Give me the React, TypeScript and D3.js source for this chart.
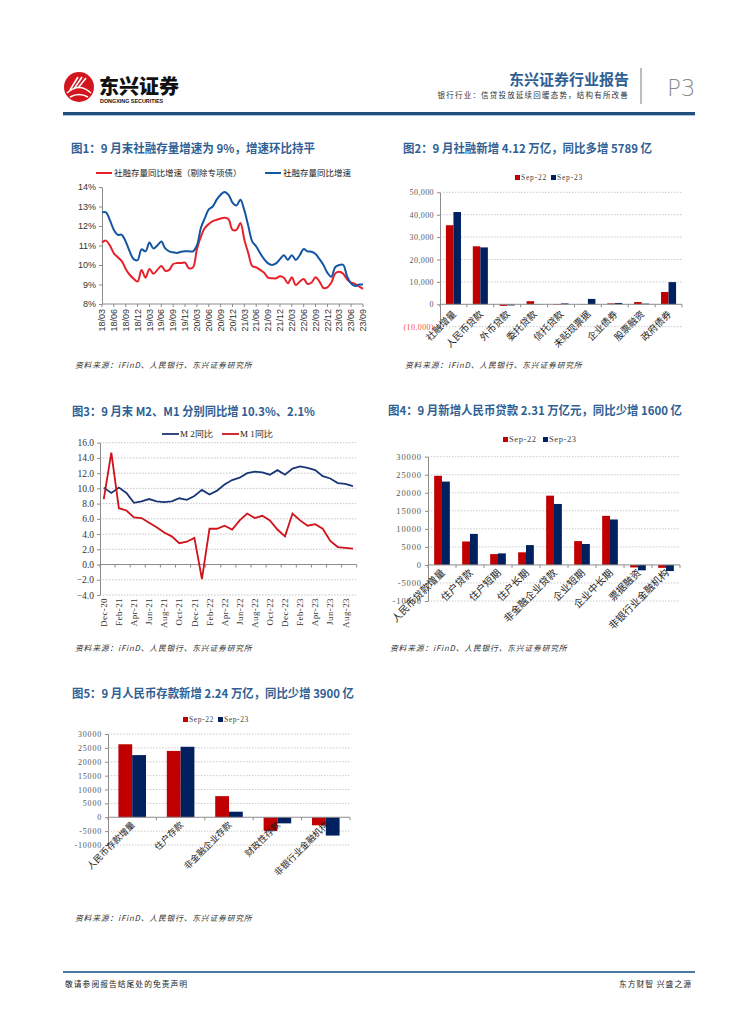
import React, { useEffect, useRef } from 'react';
import * as d3 from 'd3';

const CJK = '"Noto Sans CJK SC", "Noto Sans", sans-serif';
const SERIF = '"Liberation Serif", "DejaVu Serif", serif';
const SANS = '"Liberation Sans", Arial, sans-serif';
const TITLE_BLUE = '#2f5f94';
const BAR_RED = '#c00000';
const BAR_NAVY = '#002060';
const SOURCE = '资料来源：iFinD、人民银行、东兴证券研究所';

// 图1 社融存量同比增速 (18/03 - 23/09, monthly)
const tsfTicks = ['18/03', '18/06', '18/09', '18/12', '19/03', '19/06', '19/09', '19/12', '20/03', '20/06', '20/09', '20/12',
  '21/03', '21/06', '21/09', '21/12', '22/03', '22/06', '22/09', '22/12', '23/03', '23/06', '23/09'];
const tsfYTicks = [8, 9, 10, 11, 12, 13, 14];
const tsfGrowth = [12.7, 12.7, 12.3, 11.8, 11.55, 11.55, 11.2, 10.7, 10.3, 10.25, 10.8, 10.7, 11.15, 10.85, 11.0, 11.2,
  10.85, 10.7, 10.65, 10.62, 10.68, 10.7, 10.7, 10.7, 11.0, 11.9, 12.4, 12.85, 13.0, 13.35, 13.6, 13.75, 13.6, 13.2,
  13.05, 13.35, 12.8, 12.0, 11.2, 10.95, 10.6, 10.3, 10.08, 10.0, 10.08, 10.3, 10.5, 10.26, 10.5, 10.26, 10.5, 10.82,
  10.7, 10.68, 10.56, 10.3, 10.0, 9.6, 9.4, 9.9, 10.0, 10.0, 9.4, 9.05, 8.92, 9.0, 9.0];
const tsfExSpecial = [11.15, 11.25, 11.0, 10.6, 10.4, 10.2, 9.8, 9.5, 9.3, 9.15, 9.75, 9.35, 9.8, 9.55, 9.75, 9.95, 9.7,
  9.75, 10.05, 10.1, 10.1, 10.12, 9.83, 9.88, 10.8, 11.45, 11.9, 12.1, 12.25, 12.32, 12.38, 12.42, 12.35, 11.8, 11.8,
  12.15, 11.3, 10.6, 9.95, 9.88, 9.75, 9.6, 9.35, 9.32, 9.32, 9.42, 9.35, 9.06, 9.37, 8.97, 9.15, 9.28, 9.03, 9.1, 9.37,
  9.15, 8.82, 8.85, 9.1, 9.57, 9.65, 9.55, 9.25, 9.1, 9.03, 8.9, 8.78];

// 图2 社融新增结构
const tsfCats = ['社融增量', '人民币贷款', '外币贷款', '委托贷款', '信托贷款', '未贴现票据', '企业债券', '股票融资', '政府债券'];
const tsfSep22 = [35300, 25900, -700, 1400, -300, 100, 400, 1000, 5500];
const tsfSep23 = [41200, 25400, -500, 100, 400, 2400, 600, 300, 9900];
const tsfBarTicks = [-10000, 0, 10000, 20000, 30000, 40000, 50000];

// 图3 M2、M1 同比 (Dec-20 - Sep-23)
const mTicks = ['Dec-20', 'Feb-21', 'Apr-21', 'Jun-21', 'Aug-21', 'Oct-21', 'Dec-21', 'Feb-22', 'Apr-22', 'Jun-22',
  'Aug-22', 'Oct-22', 'Dec-22', 'Feb-23', 'Apr-23', 'Jun-23', 'Aug-23'];
const mYTicks = [-4, -2, 0, 2, 4, 6, 8, 10, 12, 14, 16];
const m2 = [10.1, 9.4, 10.1, 9.4, 8.1, 8.3, 8.6, 8.3, 8.2, 8.3, 8.7, 8.5, 9.0, 9.8, 9.2, 9.7, 10.5, 11.1, 11.4, 12.0,
  12.2, 12.1, 11.8, 12.4, 11.8, 12.6, 12.9, 12.7, 12.4, 11.6, 11.3, 10.7, 10.6, 10.3];
const m1 = [8.6, 14.7, 7.4, 7.1, 6.2, 6.1, 5.5, 4.9, 4.2, 3.7, 2.8, 3.0, 3.5, -1.9, 4.7, 4.7, 5.1, 4.6, 5.8, 6.7, 6.1,
  6.4, 5.8, 4.6, 3.7, 6.7, 5.8, 5.1, 5.3, 4.7, 3.1, 2.3, 2.2, 2.1];

// 图4 新增人民币贷款
const loanCats = ['人民币贷款增量', '住户贷款', '住户短期', '住户长期', '非金融企业贷款', '企业短期', '企业中长期', '票据融资', '非银行业金融机构'];
const loanSep22 = [24700, 6500, 3000, 3500, 19200, 6600, 13600, -700, -800];
const loanSep23 = [23100, 8600, 3200, 5500, 16900, 5800, 12600, -1500, -1700];
const loanTicks = [-10000, -5000, 0, 5000, 10000, 15000, 20000, 25000, 30000];

// 图5 人民币存款
const depCats = ['人民币存款增量', '住户存款', '非金融企业存款', '财政性存款', '非银行业金融机构'];
const depSep22 = [26300, 23900, 7600, -4900, -2900];
const depSep23 = [22400, 25400, 2000, -2200, -6600];
const depTicks = [-10000, -5000, 0, 5000, 10000, 15000, 20000, 25000, 30000];

const seriesNames = ['Sep-22', 'Sep-23'];

function title(svg, x, y, text, len) {
  svg.append('text').attr('x', x).attr('y', y).text(text)
    .attr('textLength', len).attr('lengthAdjust', 'spacingAndGlyphs')
    .attr('font-family', CJK).attr('font-size', 12).attr('font-weight', 700).attr('fill', TITLE_BLUE);
}

function source(svg, x, y) {
  svg.append('text').attr('x', x).attr('y', y).text(SOURCE)
    .attr('font-family', CJK).attr('font-size', 7.8).attr('font-style', 'italic')
    .attr('letter-spacing', 0.8).attr('fill', '#333');
}

function styleAxis(g, font, size, color, spacing = 0) {
  g.select('.domain').attr('stroke', '#8c8c8c');
  g.selectAll('.tick line').attr('stroke', '#8c8c8c');
  g.selectAll('.tick text').attr('font-family', font).attr('font-size', size)
    .attr('fill', color).attr('letter-spacing', spacing);
}

function drawHeader(svg) {
  svg.append('circle').attr('cx', 79).attr('cy', 87).attr('r', 15).attr('fill', '#d3161e');
  const w = svg.append('g').attr('stroke', '#fff').attr('fill', 'none').attr('stroke-width', 1.6);
  w.append('path').attr('d', 'M67,93 Q79,82 91,93');
  w.append('path').attr('d', 'M70,90 L78,77');
  w.append('path').attr('d', 'M74,89 L82,77');
  w.append('path').attr('d', 'M78,88 L86,78');
  w.append('path').attr('d', 'M70,97 Q79,92 88,97');
  svg.append('text').attr('x', 99).attr('y', 94).text('东兴证券')
    .attr('font-family', CJK).attr('font-size', 20).attr('font-weight', 900).attr('fill', '#111');
  svg.append('text').attr('x', 100).attr('y', 103).text('DONGXING SECURITIES')
    .attr('font-family', SANS).attr('font-size', 5.4).attr('font-weight', 700).attr('fill', '#111');
  svg.append('text').attr('x', 629).attr('y', 85).attr('text-anchor', 'end').text('东兴证券行业报告')
    .attr('font-family', CJK).attr('font-size', 15).attr('font-weight', 700).attr('fill', TITLE_BLUE);
  svg.append('text').attr('x', 629).attr('y', 98).attr('text-anchor', 'end')
    .text('银行行业：信贷投放延续回暖态势，结构有所改善')
    .attr('font-family', CJK).attr('font-size', 7.5).attr('letter-spacing', 1.2).attr('fill', '#333');
  svg.append('line').attr('x1', 641).attr('x2', 641).attr('y1', 68).attr('y2', 104)
    .attr('stroke', '#9a9a9a').attr('stroke-width', 1.3);
  svg.append('text').attr('x', 667).attr('y', 96).text('P3')
    .attr('font-family', '"DejaVu Sans", sans-serif').attr('font-size', 23).attr('font-weight', 200).attr('fill', '#8a8a8a');
  svg.append('rect').attr('x', 63).attr('y', 112).attr('width', 632).attr('height', 3).attr('fill', '#1f4e7c');
  svg.append('rect').attr('x', 63).attr('y', 115).attr('width', 632).attr('height', 1).attr('fill', '#a9c4df');
}

function drawFooter(svg) {
  svg.append('rect').attr('x', 63).attr('y', 971).attr('width', 632).attr('height', 2).attr('fill', '#4a78a8');
  svg.append('text').attr('x', 65).attr('y', 987).text('敬请参阅报告结尾处的免责声明')
    .attr('font-family', CJK).attr('font-size', 7.8).attr('letter-spacing', 1).attr('fill', '#222');
  svg.append('text').attr('x', 692).attr('y', 987).attr('text-anchor', 'end').text('东方财智 兴盛之源')
    .attr('font-family', CJK).attr('font-size', 7.8).attr('letter-spacing', 1).attr('fill', '#222');
}

function drawTsfLine(svg) {
  const g = svg.append('g');
  const x = d3.scaleLinear().domain([0, tsfGrowth.length - 1]).range([102, 363]);
  const y = d3.scaleLinear().domain([8, 14]).range([304, 187]);

  const ya = g.append('g').attr('transform', 'translate(102,0)')
    .call(d3.axisLeft(y).tickValues(tsfYTicks).tickSize(3).tickSizeOuter(0).tickFormat(d => d + '%'));
  styleAxis(ya, SANS, 9, '#333');

  g.append('line').attr('x1', 102).attr('x2', 363).attr('y1', y(8)).attr('y2', y(8)).attr('stroke', '#8c8c8c');
  tsfTicks.forEach((t, i) => {
    const px = x(i * 3);
    g.append('line').attr('x1', px).attr('x2', px).attr('y1', y(8)).attr('y2', y(8) + 3).attr('stroke', '#8c8c8c');
    g.append('text').attr('transform', `translate(${px},${y(8) + 5}) rotate(-90)`)
      .attr('text-anchor', 'end').attr('dy', '0.35em').text(t)
      .attr('font-family', SANS).attr('font-size', 9).attr('fill', '#333');
  });

  const line = d3.line().x((d, i) => x(i)).y(d => y(d)).curve(d3.curveCatmullRom.alpha(0.5));
  g.append('path').datum(tsfExSpecial).attr('d', line).attr('fill', 'none').attr('stroke', '#e8202a').attr('stroke-width', 2);
  g.append('path').datum(tsfGrowth).attr('d', line).attr('fill', 'none').attr('stroke', '#1556a2').attr('stroke-width', 2);

  const lg = g.append('g').attr('font-family', CJK).attr('font-size', 8.5).attr('fill', '#222');
  lg.append('line').attr('x1', 96).attr('x2', 112).attr('y1', 173).attr('y2', 173).attr('stroke', '#e8202a').attr('stroke-width', 2);
  lg.append('text').attr('x', 114).attr('y', 176).text('社融存量同比增速（剔除专项债）');
  lg.append('line').attr('x1', 265).attr('x2', 281).attr('y1', 173).attr('y2', 173).attr('stroke', '#1556a2').attr('stroke-width', 2);
  lg.append('text').attr('x', 283).attr('y', 176).text('社融存量同比增速');
}

function drawMLine(svg) {
  const g = svg.append('g');
  const x = d3.scaleBand().domain(d3.range(m2.length)).range([100, 356.7]);
  const cx = i => x(i) + x.bandwidth() / 2;
  const y = d3.scaleLinear().domain([-4, 16]).range([595, 442.7]);

  g.selectAll('line.grid').data(mYTicks.filter(v => v !== 0)).join('line')
    .attr('x1', 100).attr('x2', 356).attr('y1', d => y(d)).attr('y2', d => y(d))
    .attr('stroke', '#bdbdbd').attr('stroke-dasharray', '1.5,1.5').attr('stroke-width', 0.9);

  const ya = g.append('g').attr('transform', 'translate(100,0)')
    .call(d3.axisLeft(y).tickValues(mYTicks).tickSize(3).tickSizeOuter(0).tickFormat(d3.format('.1f')));
  styleAxis(ya, SERIF, 9.5, '#333');

  g.append('line').attr('x1', 100).attr('x2', 356.7).attr('y1', y(0)).attr('y2', y(0)).attr('stroke', '#8c8c8c');
  mTicks.forEach((t, k) => {
    const i = k * 2;
    g.append('line').attr('x1', x(i)).attr('x2', x(i)).attr('y1', y(0)).attr('y2', y(0) + 3).attr('stroke', '#8c8c8c');
    g.append('text').attr('transform', `translate(${cx(i)},${y(-4) + 3}) rotate(-90)`)
      .attr('text-anchor', 'end').attr('dy', '0.35em').text(t)
      .attr('font-family', SERIF).attr('font-size', 9).attr('letter-spacing', 0.4).attr('fill', '#333');
  });
  g.append('line').attr('x1', 356.7).attr('x2', 356.7).attr('y1', y(0)).attr('y2', y(0) + 3).attr('stroke', '#8c8c8c');

  const line = d3.line().x((d, i) => cx(i)).y(d => y(d));
  g.append('path').datum(m2).attr('d', line).attr('fill', 'none').attr('stroke', '#1a3676').attr('stroke-width', 1.8);
  g.append('path').datum(m1).attr('d', line).attr('fill', 'none').attr('stroke', '#d0121a').attr('stroke-width', 1.8);

  const lg = g.append('g').attr('font-family', SERIF).attr('font-size', 9).attr('fill', '#222');
  lg.append('line').attr('x1', 162).attr('x2', 179).attr('y1', 434).attr('y2', 434).attr('stroke', '#1a3676').attr('stroke-width', 1.8);
  lg.append('text').attr('x', 180).attr('y', 437).text('M 2同比');
  lg.append('line').attr('x1', 222).attr('x2', 239).attr('y1', 434).attr('y2', 434).attr('stroke', '#d0121a').attr('stroke-width', 1.8);
  lg.append('text').attr('x', 240).attr('y', 437).text('M 1同比');
}

function drawBars(svg, o) {
  const g = svg.append('g');
  const x = d3.scaleBand().domain(o.cats).range([o.x0, o.x1]).paddingInner(o.pad).paddingOuter(o.pad / 2);
  const y = d3.scaleLinear().domain(o.domain).range([o.yBottom, o.yTop]);
  const half = x.bandwidth() / 2;
  const step = x.step();

  g.selectAll('line.grid').data(o.ticks.filter(v => v !== 0)).join('line')
    .attr('x1', o.x0).attr('x2', o.x1).attr('y1', d => y(d)).attr('y2', d => y(d))
    .attr('stroke', '#c4c4c4').attr('stroke-dasharray', '1.5,1.5').attr('stroke-width', 0.9);

  const ya = g.append('g').attr('transform', `translate(${o.x0},0)`)
    .call(d3.axisLeft(y).tickValues(o.ticks).tickSize(3).tickSizeOuter(0).tickFormat(o.fmt));
  styleAxis(ya, SERIF, o.tickSize, '#595959', o.tickSpacing);
  if (o.negColor) ya.selectAll('.tick text').filter(d => d < 0).attr('fill', o.negColor);

  [o.s22, o.s23].forEach((vals, si) => {
    g.selectAll(null).data(vals).join('rect')
      .attr('x', (d, i) => x(o.cats[i]) + si * half)
      .attr('width', half)
      .attr('y', d => y(Math.max(0, d)))
      .attr('height', d => Math.abs(y(d) - y(0)))
      .attr('fill', si === 0 ? BAR_RED : BAR_NAVY);
  });

  g.append('line').attr('x1', o.x0).attr('x2', o.x1).attr('y1', y(0)).attr('y2', y(0)).attr('stroke', '#8c8c8c');
  o.cats.forEach((c, i) => {
    const bx = o.x0 + step * i;
    g.append('line').attr('x1', bx).attr('x2', bx).attr('y1', y(0)).attr('y2', y(0) + 3).attr('stroke', '#8c8c8c');
    g.append('text').attr('transform', `translate(${x(c) + half + o.labelDx},${y(0) + o.labelDy}) rotate(-45)`)
      .attr('text-anchor', 'end').attr('dy', '0.35em').text(c)
      .attr('font-family', CJK).attr('font-size', o.labelSize).attr('fill', '#1a1a1a');
  });
  g.append('line').attr('x1', o.x1).attr('x2', o.x1).attr('y1', y(0)).attr('y2', y(0) + 3).attr('stroke', '#8c8c8c');

  const lg = g.append('g').attr('font-family', SERIF).attr('font-size', o.legendSize).attr('fill', '#444')
    .attr('letter-spacing', o.legendSpacing);
  seriesNames.forEach((n, i) => {
    const lx = o.legendX + i * o.legendGap;
    lg.append('rect').attr('x', lx).attr('y', o.legendY - 5).attr('width', 5).attr('height', 5)
      .attr('fill', i === 0 ? BAR_RED : BAR_NAVY);
    lg.append('text').attr('x', lx + 6).attr('y', o.legendY).text(n);
  });
}

export default function App() {
  const ref = useRef(null);

  useEffect(() => {
    const svg = d3.select(ref.current);
    svg.selectAll('*').remove();

    drawHeader(svg);

    title(svg, 71, 153, '图1：9 月末社融存量增速为 9%，增速环比持平', 244);
    drawTsfLine(svg);
    source(svg, 75, 368);

    title(svg, 403, 153, '图2：9 月社融新增 4.12 万亿，同比多增 5789 亿', 249);
    drawBars(svg, {
      cats: tsfCats, s22: tsfSep22, s23: tsfSep23, x0: 440, x1: 682, yBottom: 326.7, yTop: 192.3,
      domain: [-10000, 50000], ticks: tsfBarTicks, pad: 0.44,
      fmt: d => (d < 0 ? `(${d3.format(',')(-d)})` : d3.format(',')(d)),
      tickSize: 8, tickSpacing: 0.4, negColor: '#ff4d4d', labelSize: 9.5, labelDx: 1, labelDy: 8,
      legendX: 515, legendY: 180, legendGap: 36, legendSize: 7.5, legendSpacing: 0.8,
    });
    source(svg, 405, 368);

    title(svg, 72, 416, '图3：9 月末 M2、M1 分别同比增 10.3%、2.1%', 243);
    drawMLine(svg);
    source(svg, 75, 651);

    title(svg, 388, 415, '图4：9 月新增人民币贷款 2.31 万亿元，同比少增 1600 亿', 294);
    drawBars(svg, {
      cats: loanCats, s22: loanSep22, s23: loanSep23, x0: 428, x1: 680, yBottom: 601, yTop: 456.7,
      domain: [-10000, 30000], ticks: loanTicks, pad: 0.44, fmt: d => String(d),
      tickSize: 8.5, tickSpacing: 0.9, negColor: null, labelSize: 10, labelDx: 1, labelDy: 6,
      legendX: 503, legendY: 442, legendGap: 40, legendSize: 8.5, legendSpacing: 0.6,
    });
    source(svg, 390, 651);

    title(svg, 72, 698, '图5：9 月人民币存款新增 2.24 万亿，同比少增 3900 亿', 282);
    drawBars(svg, {
      cats: depCats, s22: depSep22, s23: depSep23, x0: 108, x1: 350, yBottom: 845, yTop: 734,
      domain: [-10000, 30000], ticks: depTicks, pad: 0.43, fmt: d => String(d),
      tickSize: 8, tickSpacing: 0.8, negColor: null, labelSize: 9, labelDx: 1, labelDy: 6,
      legendX: 183, legendY: 722, legendGap: 35, legendSize: 7.5, legendSpacing: 0.6,
    });
    source(svg, 75, 921);

    drawFooter(svg);
  }, []);

  return (
    <svg ref={ref} width={755} height={1024}
      style={{ position: 'absolute', left: 0, top: 0, background: '#fff' }} />
  );
}
